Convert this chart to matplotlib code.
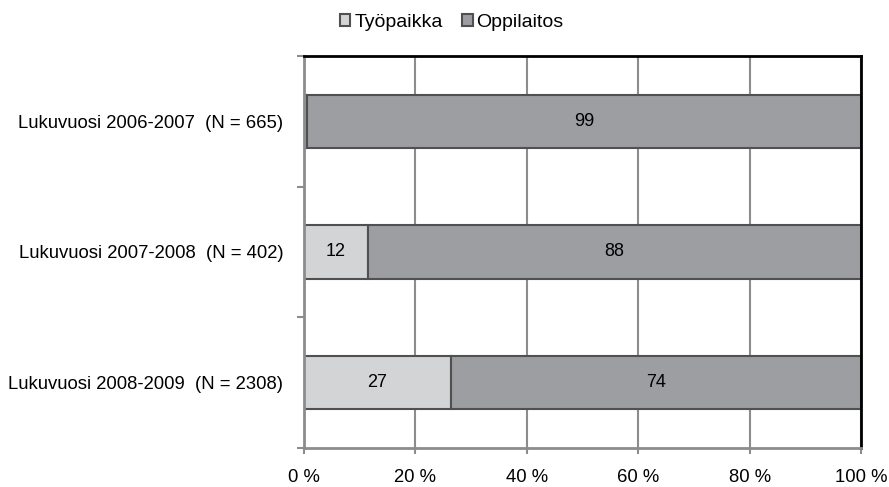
import matplotlib.pyplot as plt
import numpy as np

plt.rcParams['font.family'] = ['Liberation Sans', 'DejaVu Sans']

categories = ['Lukuvuosi 2006-2007  (N = 665)',
              'Lukuvuosi 2007-2008  (N = 402)',
              'Lukuvuosi 2008-2009  (N = 2308)']
tyopaikka = [0.6, 11.5, 26.4]
oppilaitos = [99.4, 88.5, 73.6]
tyo_labels = ['', '12', '27']
opp_labels = ['99', '88', '74']

light = '#d3d4d6'
dark = '#9c9ea2'
edge = '#505050'
grid = '#8c8c8c'
fs = 13.3

fig = plt.figure(figsize=(8.89, 4.87), dpi=100)
ax = fig.add_axes([304 / 889, 1 - 448 / 487, 557 / 889, 392 / 487])

y = np.arange(len(categories))[::-1]
b1 = ax.barh(y, tyopaikka, height=0.41, color=light, edgecolor=edge, linewidth=1.5, label='Työpaikka')
b2 = ax.barh(y, oppilaitos, left=tyopaikka, height=0.41, color=dark, edgecolor=edge, linewidth=1.5, label='Oppilaitos')

for rect, lab in zip(b1, tyo_labels):
    ax.text(rect.get_x() + rect.get_width() / 2, rect.get_y() + rect.get_height() / 2, lab,
            ha='center', va='center', fontsize=13)
for rect, lab in zip(b2, opp_labels):
    ax.text(rect.get_x() + rect.get_width() / 2, rect.get_y() + rect.get_height() / 2, lab,
            ha='center', va='center', fontsize=13)

ax.set_xlim(0, 100)
ax.set_ylim(-0.5, 2.5)
ax.set_xticks([0, 20, 40, 60, 80, 100])
ax.set_xticklabels(['0 %', '20 %', '40 %', '60 %', '80 %', '100 %'], fontsize=fs)
ax.set_yticks(y)
ax.set_yticklabels(categories, fontsize=fs)
ax.tick_params(axis='y', length=0, pad=15)
ax.tick_params(axis='x', length=4, color=grid, width=1.5, pad=11)

# minor ticks at category boundaries on the left
ax.set_yticks([-0.5, 0.5, 1.5, 2.5], minor=True)
ax.tick_params(axis='y', which='minor', length=5, color=grid, width=1.5)

ax.xaxis.grid(True, color=grid, linewidth=1.5)
ax.set_axisbelow(True)
for side in ['left', 'bottom']:
    ax.spines[side].set_color(grid)
    ax.spines[side].set_linewidth(2)
for side in ['top', 'right']:
    ax.spines[side].set_color('black')
    ax.spines[side].set_linewidth(2)

fig.legend(loc='upper center', bbox_to_anchor=(0.508, 1.008), ncol=2, frameon=False, fontsize=14,
           handlelength=0.55, handleheight=0.55, handletextpad=0.2, columnspacing=1.0)

fig.savefig('out.png', dpi=100)
